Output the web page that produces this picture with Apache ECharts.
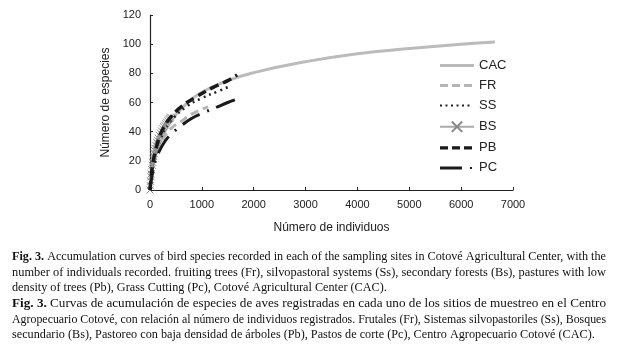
<!DOCTYPE html>
<html><head><meta charset="utf-8">
<script src="https://cdn.jsdelivr.net/npm/echarts@6/dist/echarts.min.js"></script>
<style>html,body{margin:0;padding:0;background:#fff}#c{width:621px;height:345px}</style>
</head><body><div id="c"></div>
<script>
// Data (individuals, species)
var cacX = [0, 50, 100, 200, 400, 700, 1000, 1500, 2000, 3000, 4000, 5000, 6000, 6650];
var cacY = [0, 15, 23, 33, 47, 59, 67, 75, 80.5, 88, 93.5, 97, 100, 101.5];
var frX = [0, 50, 100, 200, 400, 600, 800, 1120];
var frY = [0, 15, 22, 32, 42, 47, 52, 57];
var ssX = [0, 50, 100, 200, 400, 700, 1000, 1300, 1500];
var ssY = [0, 17, 25, 35, 47, 57, 63, 67.5, 70.5];
var bsX = [0, 5, 10, 15, 20, 30, 40, 50, 60, 70, 80, 90, 100, 115, 130, 145, 160, 180, 200, 220, 240, 260, 280, 300, 320, 340, 360, 380, 395];
var bsY = [0, 3, 6, 9, 11, 14, 17, 19, 21, 23, 25, 27, 28.5, 30.5, 32.5, 34, 35.5, 37.5, 39, 40.5, 42, 43.5, 44.5, 45.5, 46.5, 47.5, 48.5, 49.2, 50];
var pbX = [0, 20, 50, 100, 200, 300, 400, 600, 900, 1200, 1500, 1680];
var pbY = [0, 8, 17, 26, 38, 45, 50, 57, 64, 70, 75, 79];
var pcX = [0, 30, 60, 100, 200, 300, 400, 600, 800, 1000, 1300, 1500, 1700];
var pcY = [0, 8, 14, 20, 28, 34, 38, 44, 49, 52.5, 57, 60, 62.5];
var yTicks = [0, 20, 40, 60, 80, 100, 120];
var xTicks = [0, 1000, 2000, 3000, 4000, 5000, 6000, 7000];
var seriesNames = ['CAC', 'FR', 'SS', 'BS', 'PB', 'PC'];
// caption lines: [bold prefix, text, justified?]
var captionLines = [
  ['Fig. 3.', ' Accumulation curves of bird species recorded in each of the sampling sites in Cotové Agricultural Center, with the', true],
  ['', 'number of individuals recorded. fruiting trees (Fr), silvopastoral systems (Ss), secondary forests (Bs), pastures with low', true],
  ['', 'density of trees (Pb), Grass Cutting (Pc), Cotové Agricultural Center (CAC).', false],
  ['Fig. 3.', ' Curvas de acumulación de especies de aves registradas en cada uno de los sitios de muestreo en el Centro', true],
  ['', 'Agropecuario Cotové, con relación al número de individuos registrados. Frutales (Fr), Sistemas silvopastoriles (Ss), Bosques', true],
  ['', 'secundario (Bs), Pastoreo con baja densidad de árboles (Pb), Pastos de corte (Pc), Centro Agropecuario Cotové (CAC).', false]
];

function zip(xs, ys) { return xs.map(function (x, i) { return [x, ys[i]]; }); }

var chart = echarts.init(document.getElementById('c'), null, { renderer: 'canvas' });
var sansFont = "'Liberation Sans Narrow', 'Liberation Sans', sans-serif";
var serifFont = "'Liberation Serif', serif";
var xMark = 'path://M0,0L10,10M10,0L0,10';

// legend glyphs drawn in a 34x13 box (tiny corner squares fix the box size)
var box = 'M0,0h0.01v0.01h-0.01zM34,13h-0.01v-0.01h0.01z';
var legendIcons = {
  CAC: 'path://' + box + 'M0,5h34v3h-34z',
  FR: 'path://' + box + 'M0,5h8v3h-8zM12,5h8v3h-8zM24,5h8v3h-8z',
  SS: 'path://' + box + 'M0,5.5h2v2h-2zM5.5,5.5h2v2h-2zM11,5.5h2v2h-2zM16.5,5.5h2v2h-2zM22,5.5h2v2h-2zM27.5,5.5h2v2h-2z',
  PB: 'path://' + box + 'M0,4.8h8v3.4h-8zM12,4.8h8v3.4h-8zM24,4.8h8v3.4h-8z',
  PC: 'path://' + box + 'M0,5h22v3h-22zM30,5.5h2v2h-2z'
};

// caption layout: text block from x=12 to x=606, justified lines stretched to the full width
var capFont = 12.1, capLeft = 12, capRight = 606, capTop = 257, capStep = 15.6;
var mctx = document.createElement('canvas').getContext('2d');
function measure(str, bold) {
  mctx.font = (bold ? 'bold ' : '') + capFont + 'px ' + serifFont;
  return mctx.measureText(str).width;
}
var graphics = captionLines.map(function (l, i) {
  var w = measure(l[0], true) + measure(l[1], false);
  var sx = l[2] ? (capRight - capLeft) / w : 1.01;
  return {
    type: 'text', x: capLeft, y: capTop + i * capStep, scaleX: sx,
    style: {
      text: (l[0] ? '{b|' + l[0] + '}' : '') + '{n|' + l[1] + '}',
      verticalAlign: 'middle',
      rich: {
        b: { fontFamily: serifFont, fontWeight: 'bold', fontSize: capFont, fill: '#111' },
        n: { fontFamily: serifFont, fontSize: capFont, fill: '#111' }
      }
    }
  };
});

chart.setOption({
  animation: false,
  backgroundColor: '#fff',
  grid: { left: 150, right: 108, top: 15, bottom: 155, containLabel: false },
  xAxis: {
    type: 'value', min: 0, max: 7000, interval: 1000,
    name: 'Número de individuos', nameLocation: 'middle', nameGap: 32,
    nameTextStyle: { fontFamily: sansFont, fontSize: 12, color: '#222' },
    axisLine: { lineStyle: { color: '#222', width: 1.2 } },
    axisTick: { inside: true, length: 3, lineStyle: { color: '#222' } },
    axisLabel: { fontFamily: sansFont, fontSize: 11, color: '#222', margin: 9,
      formatter: function (v) { return xTicks.indexOf(v) >= 0 ? String(v) : ''; } },
    splitLine: { show: false }
  },
  yAxis: {
    type: 'value', min: 0, max: 120, interval: 20,
    name: 'Número de especies', nameLocation: 'middle', nameGap: 33, nameRotate: 90,
    nameTextStyle: { fontFamily: sansFont, fontSize: 12, color: '#222' },
    axisLine: { show: true, lineStyle: { color: '#222', width: 1.2 } },
    axisTick: { show: true, inside: true, length: 3, lineStyle: { color: '#222' } },
    axisLabel: { fontFamily: sansFont, fontSize: 11, color: '#222', margin: 9,
      formatter: function (v) { return yTicks.indexOf(v) >= 0 ? String(v) : ''; } },
    splitLine: { show: false }
  },
  legend: {
    orient: 'vertical', left: 434, top: 54, itemGap: 7, itemWidth: 34, itemHeight: 13,
    data: seriesNames.map(function (n) {
      return legendIcons[n] ? { name: n, icon: legendIcons[n], itemStyle: { borderWidth: 0 } } : { name: n };
    }),
    textStyle: { fontFamily: sansFont, fontSize: 13, color: '#222' }
  },
  graphic: graphics,
  series: [
    { name: 'CAC', type: 'line', data: zip(cacX, cacY), smooth: 0.5, symbol: 'none',
      lineStyle: { color: '#bbbbbb', width: 3 }, itemStyle: { color: '#bbbbbb' }, z: 1 },
    { name: 'FR', type: 'line', data: zip(frX, frY), smooth: 0.5, symbol: 'none',
      lineStyle: { color: '#b5b5b5', width: 3, type: [8, 5] }, itemStyle: { color: '#b5b5b5' }, z: 2 },
    { name: 'SS', type: 'line', data: zip(ssX, ssY), smooth: 0.5, symbol: 'none',
      lineStyle: { color: '#222', width: 2.5, type: [2, 4] }, itemStyle: { color: '#222' }, z: 3 },
    { name: 'BS', type: 'line', data: zip(bsX, bsY), smooth: 0.5, symbol: xMark, symbolSize: 7, showSymbol: true,
      lineStyle: { color: '#aaaaaa', width: 3 },
      itemStyle: { color: 'none', borderColor: '#888', borderWidth: 1 }, z: 4 },
    { name: 'PB', type: 'line', data: zip(pbX, pbY), smooth: 0.5, symbol: 'none',
      lineStyle: { color: '#1a1a1a', width: 3.5, type: [9, 5] }, itemStyle: { color: '#1a1a1a' }, z: 5 },
    { name: 'PC', type: 'line', data: zip(pcX, pcY), smooth: 0.5, symbol: 'none',
      lineStyle: { color: '#1a1a1a', width: 3, type: [20, 8, 2, 8] }, itemStyle: { color: '#1a1a1a' }, z: 6 }
  ]
});
</script></body></html>
